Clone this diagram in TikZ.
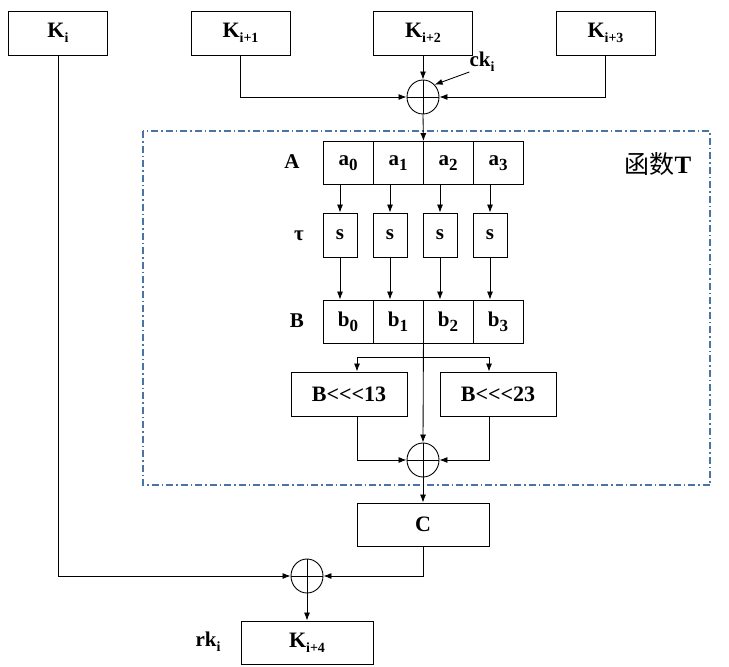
\documentclass[tikz,border=0pt]{standalone}
\usepackage{fontspec}
\setmainfont{Liberation Serif}
\newfontfamily\cjk{Noto Sans CJK SC}
\usetikzlibrary{shapes.geometric,arrows.meta}
\definecolor{dashc}{RGB}{74,116,166}
\newcommand\ksub[1]{\raisebox{-5pt}{\fontsize{14}{14}\selectfont #1}}
\newcommand\asub[1]{\raisebox{-5pt}{\fontsize{17}{17}\selectfont #1}}
\begin{document}
\begin{tikzpicture}[x=1pt,y=-1pt,
  box/.style={draw,line width=0.9pt,inner sep=0pt,font=\bfseries\fontsize{22}{22}\selectfont},
  cell/.style={box,font=\bfseries\fontsize{21}{21}\selectfont},
  arr/.style={line width=0.85pt,-{Latex[length=8pt,width=6pt]}},
  ln/.style={line width=0.85pt},
  xorn/.style={draw,ellipse,line width=0.9pt,minimum width=32pt,minimum height=34pt,inner sep=0pt,
    path picture={\draw[line width=0.9pt] (path picture bounding box.north)--(path picture bounding box.south)
      (path picture bounding box.west)--(path picture bounding box.east);}},
  lab/.style={font=\bfseries\fontsize{21}{21}\selectfont,inner sep=0pt}]
\useasboundingbox (0,0) rectangle (729,667);
% top key boxes
\node[box,minimum width=99pt,minimum height=44pt] (k0) at (58,33) {K\ksub{i}};
\node[box,minimum width=99pt,minimum height=44pt] (k1) at (240.5,33) {K\ksub{i+1}};
\node[box,minimum width=99pt,minimum height=44pt] (k2) at (423,33) {K\ksub{i+2}};
\node[box,minimum width=99pt,minimum height=44pt] (k3) at (605.5,33) {K\ksub{i+3}};
\node[xorn] (x1) at (423,97) {};
\node[lab] (ck) at (482,62) {ck\ksub{i}};
\draw[arr] (k1.south) |- (x1.west);
\draw[arr] (k3.south) |- (x1.east);
\draw[arr] (k2.south) -- (x1.north);
\draw[arr] (ck.south west) -- (x1.north east);
% function T frame
\draw[dashc,line width=1.3pt,dash pattern=on 7pt off 3pt on 1.5pt off 3pt] (143,131) rectangle (710,485);
\node[inner sep=0pt,font=\fontsize{25}{25}\selectfont] (ft) at (658,164) {{\cjk 函数}\textbf{T}};
% registers
\node[lab] (la) at (292,162) {A};
\node[lab] (lt) at (299,236) {τ};
\node[lab] (lb) at (297,321) {B};
\foreach \i/\x in {0/348,1/398,2/448,3/498}{
  \node[cell,minimum width=50pt,minimum height=43pt] (a\i) at (\x,163) {a\asub{\i}};
  \node[cell,minimum width=34pt,minimum height=44pt] (s\i) at ({\x-8},235) {s};
  \node[cell,minimum width=50pt,minimum height=43pt] (b\i) at (\x,321.5) {b\asub{\i}};
  \draw[arr] (s\i.north |- a\i.south) -- (s\i.north);
  \draw[arr] (s\i.south) -- (s\i.south |- b\i.north);
}
\draw[arr] (x1.south) -- (a1.north east);
% rotations
\node[box,minimum width=116pt,minimum height=44pt] (r13) at (349,394) {B{<}{<}{<}13};
\node[box,minimum width=116pt,minimum height=44pt] (r23) at (498,394) {B{<}{<}{<}23};
\node[xorn] (x2) at (423,460) {};
\coordinate (j13) at (357,357);
\coordinate (j23) at (489,357);
\draw[ln] (j13) -- (j23);
\draw[arr] (j13) -- (j13 |- r13.north);
\draw[arr] (j23) -- (j23 |- r23.north);
\draw[arr] (b1.south east) -- (x2.north);
\draw[arr] (j13 |- r13.south) |- (x2.west);
\draw[arr] (j23 |- r23.south) |- (x2.east);
% bottom
\node[box,minimum width=132pt,minimum height=43pt] (c) at (423,524.5) {C};
\node[xorn] (x3) at (307,576) {};
\node[box,minimum width=132pt,minimum height=43pt] (k4) at (307,642.5) {K\ksub{i+4}};
\node[lab] (rk) at (208,642) {rk\ksub{i}};
\draw[arr] (x2.south) -- (c.north);
\draw[arr] (c.south) |- (x3.east);
\draw[arr] (k0.south) |- (x3.west);
\draw[arr] (x3.south) -- (k4.north);
\end{tikzpicture}
\end{document}
